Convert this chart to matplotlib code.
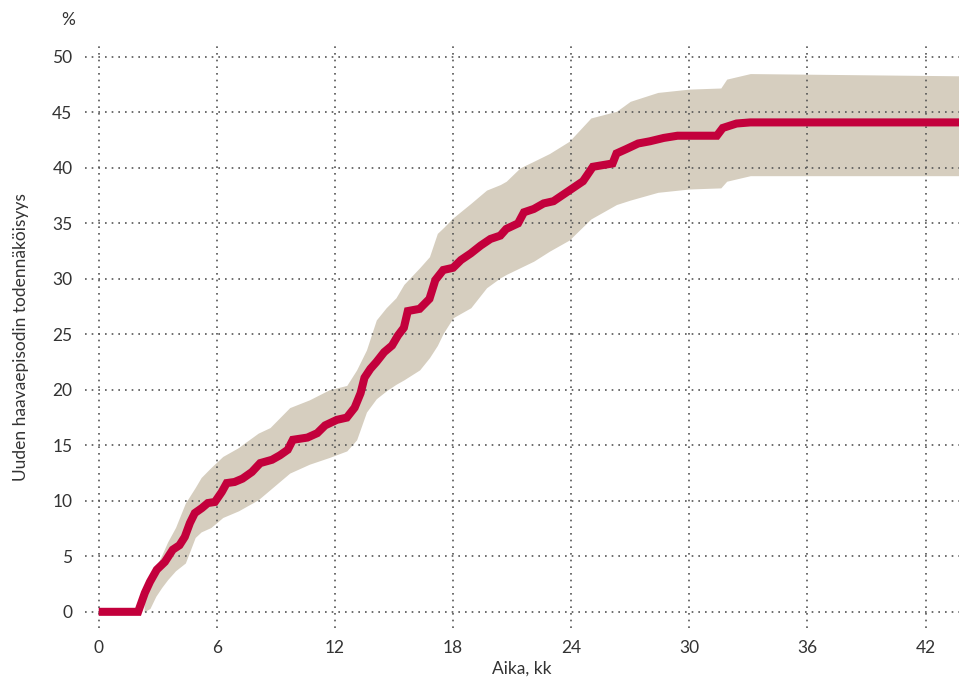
import matplotlib.pyplot as plt
import numpy as np

# Kaplan-Meier style estimate (months, %)
t_est = [0, 2.0, 2.34, 2.6, 2.95, 3.36, 3.76, 4.1, 4.37, 4.63, 4.88, 5.24, 5.54, 5.9,
         6.25, 6.5, 6.9, 7.3, 7.78, 8.2, 8.8, 9.2, 9.6, 9.86, 10.6, 11.1, 11.5, 12.1,
         12.6, 13.0, 13.3, 13.5, 13.8, 14.1, 14.5, 14.9, 15.2, 15.5, 15.7, 16.3, 16.8,
         17.1, 17.5, 18.0, 18.4, 18.9, 19.4, 19.9, 20.4, 20.7, 21.3, 21.6, 22.1, 22.6,
         23.1, 23.6, 24.1, 24.6, 25.1, 26.1, 26.3, 26.8, 27.4, 28.0, 28.7, 29.4, 31.4,
         31.7, 32.4, 33.1, 43.7]
est = [0, 0, 1.7, 2.7, 3.8, 4.5, 5.6, 6.0, 6.75, 8.0, 8.9, 9.35, 9.8, 9.9,
       10.8, 11.6, 11.7, 12.0, 12.6, 13.4, 13.7, 14.1, 14.6, 15.5, 15.7, 16.1, 16.8, 17.3,
       17.5, 18.4, 19.7, 21.1, 21.9, 22.5, 23.4, 24.0, 24.9, 25.6, 27.1, 27.3, 28.2,
       29.9, 30.8, 31.0, 31.7, 32.3, 33.0, 33.6, 33.9, 34.5, 35.0, 36.0, 36.3, 36.8,
       37.0, 37.6, 38.2, 38.8, 40.1, 40.4, 41.3, 41.7, 42.2, 42.4, 42.7, 42.9, 42.9,
       43.6, 44.0, 44.1, 44.1]

# confidence band
t_band = [2.3, 2.6, 2.9, 3.2, 3.5, 3.9, 4.4, 4.9, 5.2, 5.7, 6.3, 7.1, 7.4, 8.1, 8.7,
          9.7, 10.7, 11.7, 12.6, 13.1, 13.6, 14.1, 14.6, 15.1, 15.5, 16.3, 16.8, 17.2,
          17.5, 18.0, 18.9, 19.7, 20.4, 20.7, 21.4, 22.1, 22.9, 23.9, 25.0, 26.3, 27.0,
          28.4, 30.0, 31.6, 31.9, 33.1, 43.7]
hi = [0.8, 3.0, 4.0, 5.1, 6.3, 7.6, 9.8, 11.2, 12.1, 13.0, 14.0, 14.8, 15.2, 16.1, 16.6,
      18.4, 19.1, 20.0, 20.4, 21.8, 23.6, 26.3, 27.4, 28.3, 29.5, 31.0, 32.0, 34.1,
      34.6, 35.5, 36.8, 38.0, 38.5, 38.8, 40.0, 40.6, 41.3, 42.4, 44.5, 45.1, 46.0,
      46.8, 47.1, 47.2, 48.0, 48.5, 48.3]
lo = [0, 0.3, 1.4, 2.2, 2.9, 3.7, 4.4, 6.7, 7.2, 7.6, 8.5, 9.1, 9.4, 10.1, 11.0,
      12.5, 13.3, 13.9, 14.5, 15.5, 18.0, 19.2, 19.9, 20.5, 20.9, 21.8, 22.9, 24.0,
      25.1, 26.5, 27.4, 29.2, 30.1, 30.4, 31.0, 31.6, 32.5, 33.5, 35.4, 36.7, 37.1,
      37.8, 38.1, 38.2, 38.8, 39.3, 39.3]

x_ticks = [0, 6, 12, 18, 24, 30, 36, 42]
y_ticks = [0, 5, 10, 15, 20, 25, 30, 35, 40, 45, 50]

plt.rcParams['font.family'] = ['Lato', 'DejaVu Sans']
txt = '#333333'

fig = plt.figure(figsize=(9.59, 6.84), dpi=100)
ax = fig.add_axes([0.0886, 0.082, 0.9114, 0.851])

ax.fill_between(t_band, lo, hi, color='#d6cebf', linewidth=0, zorder=1)
ax.plot(t_est, est, color='#c3003c', lw=5.8, solid_joinstyle='miter',
        solid_capstyle='butt', zorder=3)

ax.set_xlim(-0.7, 43.7)
ax.set_ylim(-1.45, 51)
ax.set_xticks(x_ticks)
ax.set_yticks(y_ticks)
ax.grid(True, linestyle=(0, (1, 3)), color='#555555', lw=1.2, zorder=2)
for s in ax.spines.values():
    s.set_visible(False)
ax.tick_params(length=0, labelsize=12.5, labelcolor=txt)
ax.tick_params(axis='x', pad=9)
ax.tick_params(axis='y', pad=9)

ax.set_xlabel('Aika, kk', fontsize=12.5, color=txt, labelpad=3)
ax.set_ylabel('Uuden haavaepisodin todennäköisyys', fontsize=12.5, color=txt, labelpad=17)
fig.text(68 / 959, 1 - 20 / 684, '%', fontsize=12.5, color=txt, ha='center', va='center')

fig.savefig('out.png', dpi=100)
